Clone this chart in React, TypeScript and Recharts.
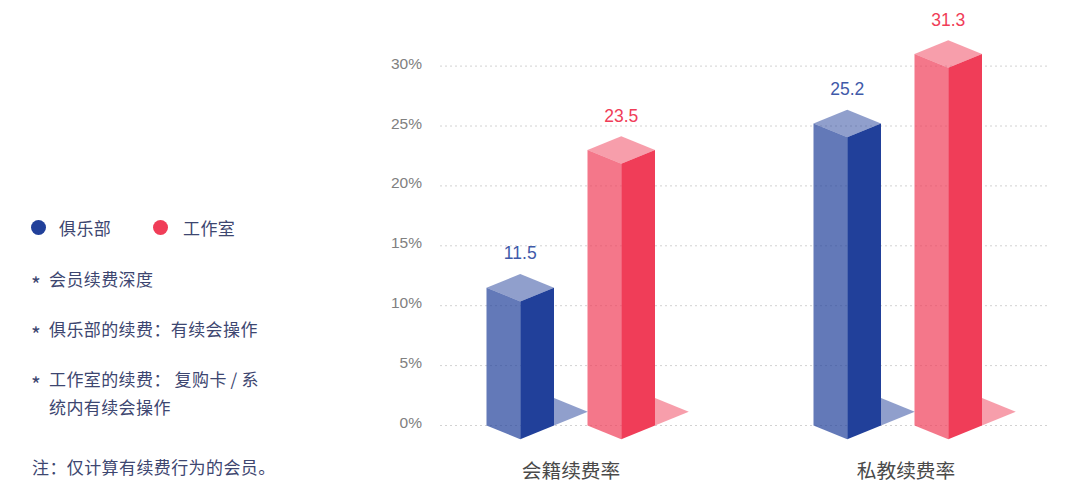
import { Bar, BarChart, CartesianGrid, LabelList, XAxis, YAxis } from "recharts";

const categories = ["会籍续费率", "私教续费率"];
// bar heights as drawn in the picture, printed labels kept apart (they differ slightly for 工作室)
const clubValues = [11.5, 25.2];
const studioValues = [23.0, 31.0];
const clubLabels = ["11.5", "25.2"];
const studioLabels = ["23.5", "31.3"];
const yTicks = [0, 5, 10, 15, 20, 25, 30];
const categoryNudge = [0, 8];

const legendItems = [
  { name: "俱乐部", color: "#21409a", dot: 38, text: 59 },
  { name: "工作室", color: "#f03d58", dot: 160, text: 183 },
];
const noteLines = [
  { star: true, text: "会员续费深度", y: 279 },
  { star: true, text: "俱乐部的续费：有续会操作", y: 329 },
  { star: true, text: "工作室的续费：\u2009复购卡\u2009/\u2009系", y: 379 },
  { star: false, text: "统内有续会操作", y: 407 },
];
const footNote = "注：仅计算有续费行为的会员。";

const rows = categories.map((name, i) => ({
  name,
  club: clubValues[i],
  studio: studioValues[i],
  clubLabel: clubLabels[i],
  studioLabel: studioLabels[i],
}));

const DEPTH = 13.75;
const CJK = '"Noto Sans CJK SC", sans-serif';
const LATIN = '"Liberation Sans", Arial, sans-serif';
const TEXT_COLOR = "#3d4670";

function pts(list: number[][]) {
  return list.map((p) => p.join(",")).join(" ");
}

function IsoBar(props: any) {
  const { x, y, width, height, fill } = props;
  const cx = x + width / 2;
  const right = x + width;
  const base = y + height;
  return (
    <g>
      {/* shadow */}
      <polygon
        points={pts([
          [right, base - 2 * DEPTH],
          [right + width / 2, base - DEPTH],
          [right, base],
        ])}
        fill={fill}
        fillOpacity={0.5}
      />
      <polygon
        points={pts([
          [x, y],
          [cx, y + DEPTH],
          [cx, base + DEPTH],
          [x, base],
        ])}
        fill={fill}
        fillOpacity={0.7}
      />
      <polygon
        points={pts([
          [cx, y + DEPTH],
          [right, y],
          [right, base],
          [cx, base + DEPTH],
        ])}
        fill={fill}
      />
      <polygon
        points={pts([
          [x, y],
          [cx, y - DEPTH],
          [right, y],
          [cx, y + DEPTH],
        ])}
        fill={fill}
        fillOpacity={0.5}
      />
    </g>
  );
}

function valueLabel(color: string) {
  return (props: any) => {
    const { x, y, width, value } = props;
    return (
      <text
        x={x + width / 2}
        y={y - DEPTH - 14.5}
        textAnchor="middle"
        fontSize={17.5}
        fontFamily={LATIN}
        fill={color}
      >
        {value}
      </text>
    );
  };
}

function CategoryTick(props: any) {
  const { x, y, payload, index } = props;
  return (
    <text
      x={x + categoryNudge[index]}
      y={y + 44}
      textAnchor="middle"
      fontSize={19.7}
      fontFamily={CJK}
      fill="#4a4a4a"
    >
      {payload.value}
    </text>
  );
}

function SideText() {
  const line = (top: number, left: number, size = 17): React.CSSProperties => ({
    position: "absolute",
    left,
    top: top - 13,
    height: 26,
    lineHeight: "26px",
    fontSize: size,
    letterSpacing: 0.4,
    whiteSpace: "nowrap",
    color: TEXT_COLOR,
    fontFamily: CJK,
  });
  return (
    <>
      {legendItems.map((it) => (
        <div key={it.name}>
          <div
            style={{
              position: "absolute",
              left: it.dot - 7.5,
              top: 220,
              width: 15,
              height: 15,
              borderRadius: "50%",
              background: it.color,
            }}
          />
          <div style={line(228, it.text)}>{it.name}</div>
        </div>
      ))}
      {noteLines.map((n) => (
        <div key={n.text}>
          {n.star && <div style={line(n.y + 5, 31, 21)}>*</div>}
          <div style={line(n.y, 49)}>{n.text}</div>
        </div>
      ))}
      <div style={line(467, 32)}>{footNote}</div>
    </>
  );
}

export default function App() {
  return (
    <div
      style={{
        position: "absolute",
        left: 0,
        top: 0,
        width: 1080,
        height: 501,
        background: "#fff",
        overflow: "hidden",
      }}
    >
      <BarChart
        width={1080}
        height={501}
        data={rows}
        margin={{ top: 6.2, right: 32, bottom: 30.5, left: 380 }}
        barSize={67.5}
        barGap={33.5}
        style={{ position: "absolute", left: 0, top: 0 }}
      >
        <CartesianGrid
          horizontal
          vertical={false}
          syncWithTicks
          stroke="#d2d2d2"
          strokeDasharray="2 3"
        />
        <XAxis
          dataKey="name"
          height={45}
          axisLine={false}
          tickLine={false}
          padding={{ left: -32.5, right: -13.5 }}
          tick={<CategoryTick />}
          interval={0}
        />
        <YAxis
          width={60}
          domain={[0, 35]}
          ticks={yTicks}
          axisLine={false}
          tickLine={false}
          tickMargin={12}
          tickFormatter={(v) => `${v}%`}
          tick={{ fontSize: 15.5, fill: "#808080", fontFamily: LATIN, dy: -3 }}
        />
        <Bar dataKey="club" name="俱乐部" fill="#21409a" shape={IsoBar} isAnimationActive={false}>
          <LabelList dataKey="clubLabel" content={valueLabel("#3f5aa9")} />
        </Bar>
        <Bar dataKey="studio" name="工作室" fill="#f03d58" shape={IsoBar} isAnimationActive={false}>
          <LabelList dataKey="studioLabel" content={valueLabel("#f03d58")} />
        </Bar>
      </BarChart>
      <SideText />
    </div>
  );
}
